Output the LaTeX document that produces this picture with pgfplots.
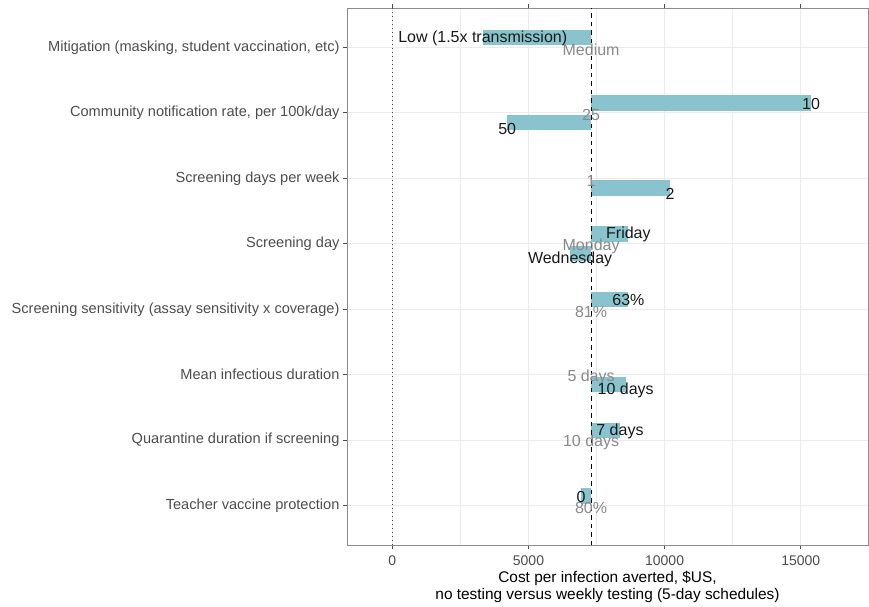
\documentclass[border=0pt]{standalone}
\usepackage{pgfplots}
\pgfplotsset{compat=1.18}
\usepackage{pgfplotstable}
\usepackage{fontspec}
\setmainfont{Liberation Sans}
\definecolor{barc}{HTML}{89C3CD}
\definecolor{gridc}{HTML}{EBEBEB}
\definecolor{tickc}{HTML}{4D4D4D}
\definecolor{basec}{HTML}{8A8A8A}
\definecolor{framec}{HTML}{8C8C8C}
\newcommand{\pct}{\%}

% black labels at the bar ends
\pgfplotstableread[col sep=comma]{
x,y,label
3320,8.14,Low (1.5x transmission)
15380,7.14,10
4220,6.76,50
10200,5.76,2
8670,5.14,Friday
6530,4.76,Wednesday
8670,4.14,63\pct
8570,2.76,10 days
8360,2.14,7 days
6930,1.14,0
}\blacklabels

% grey labels at the baseline
\pgfplotstableread[col sep=comma]{
x,y,label
7300,7.96,Medium
7300,6.96,25
7300,5.96,1
7300,4.96,Monday
7300,3.96,81\pct
7300,2.96,5 days
7300,1.96,10 days
7300,0.96,80\pct
}\greylabels

\begin{document}
\begin{tikzpicture}
\useasboundingbox (-347pt,-61pt) rectangle (522pt,545pt);
\begin{axis}[
  scale only axis,
  width=521pt, height=537pt,
  xmin=-1665, xmax=17470,
  ymin=0.4, ymax=8.6,
  xtick={0,5000,10000,15000},
  minor xtick={2500,7500,12500},
  scaled x ticks=false,
  ytick={1,2,3,4,5,6,7,8},
  yticklabels={Teacher vaccine protection, Quarantine duration if screening, Mean infectious duration, Screening sensitivity (assay sensitivity x coverage), Screening day, Screening days per week, {Community notification rate, per 100k/day}, {Mitigation (masking, student vaccination, etc)}},
  /pgf/number format/.cd, 1000 sep={}, assume math mode=true, /pgfplots/.cd,
  grid=both,
  major grid style={draw=gridc, line width=1.1pt},
  minor grid style={draw=gridc, line width=0.6pt},
  axis line style={draw=framec, line width=0.9pt},
  tick align=outside,
  major tick length=4pt,
  minor tick length=0pt,
  tick style={draw=tickc, line width=0.8pt},
  xticklabel style={font=\fontsize{14}{16}\selectfont, text=tickc, yshift=-3pt},
  yticklabel style={font=\fontsize{14.6}{17}\selectfont, text=tickc},
  xlabel={Cost per infection averted, \$US,\\no testing versus weekly testing (5-day schedules)},
  xlabel style={font=\fontsize{15.4}{17}\selectfont, align=center, text=black, yshift=1pt},
]
% bars
\addplot[fill=barc, draw=none] coordinates {(3320,8.03) (7300,8.03) (7300,8.27) (3320,8.27)};
\addplot[fill=barc, draw=none] coordinates {(7300,7.03) (15380,7.03) (15380,7.27) (7300,7.27)};
\addplot[fill=barc, draw=none] coordinates {(4220,6.73) (7300,6.73) (7300,6.97) (4220,6.97)};
\addplot[fill=barc, draw=none] coordinates {(7300,5.73) (10200,5.73) (10200,5.97) (7300,5.97)};
\addplot[fill=barc, draw=none] coordinates {(7300,5.03) (8670,5.03) (8670,5.27) (7300,5.27)};
\addplot[fill=barc, draw=none] coordinates {(6530,4.73) (7300,4.73) (7300,4.97) (6530,4.97)};
\addplot[fill=barc, draw=none] coordinates {(7300,4.03) (8670,4.03) (8670,4.27) (7300,4.27)};
\addplot[fill=barc, draw=none] coordinates {(7300,2.73) (8570,2.73) (8570,2.97) (7300,2.97)};
\addplot[fill=barc, draw=none] coordinates {(7300,2.03) (8360,2.03) (8360,2.27) (7300,2.27)};
\addplot[fill=barc, draw=none] coordinates {(6930,1.03) (7300,1.03) (7300,1.27) (6930,1.27)};
% reference lines
\addplot[draw=black, line width=0.9pt, dash pattern=on 4.5pt off 4pt] coordinates {(7300,0.4) (7300,8.6)};
\addplot[draw=black!70, line width=1.1pt, dash pattern=on 1pt off 3pt] coordinates {(0,0.4) (0,8.6)};
% labels
\addplot[draw=none, mark=none, nodes near coords, point meta=explicit symbolic,
  nodes near coords style={anchor=center, inner sep=0pt, font=\fontsize{16}{18}\selectfont, text=basec}]
  table[x=x, y=y, meta=label] {\greylabels};
\addplot[draw=none, mark=none, nodes near coords, point meta=explicit symbolic,
  nodes near coords style={anchor=center, inner sep=0pt, font=\fontsize{16}{18}\selectfont, text=black!90}]
  table[x=x, y=y, meta=label] {\blacklabels};
\end{axis}
\end{tikzpicture}
\end{document}
